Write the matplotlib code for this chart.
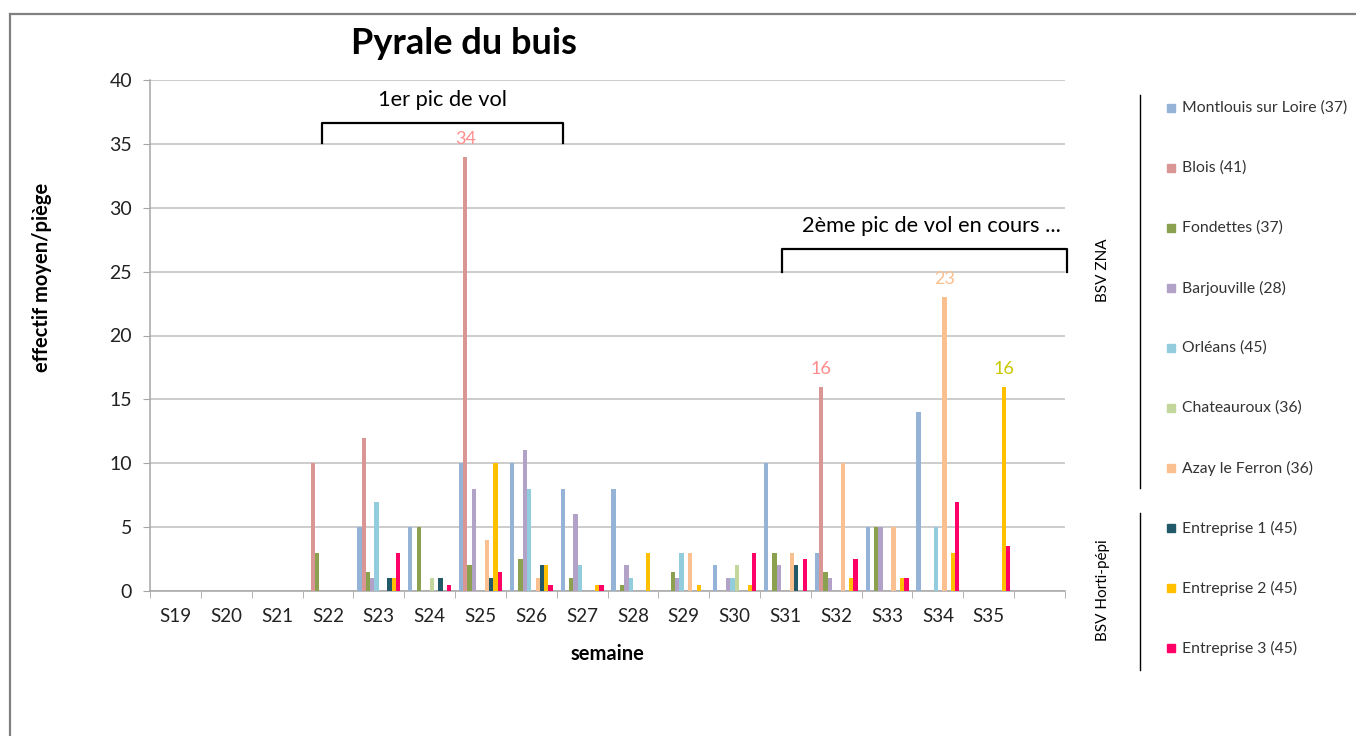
import matplotlib
matplotlib.use("Agg")
import matplotlib.pyplot as plt
from matplotlib.lines import Line2D
import numpy as np

plt.rcParams['font.family'] = ['Lato', 'DejaVu Sans']

weeks = ["S19", "S20", "S21", "S22", "S23", "S24", "S25", "S26", "S27",
         "S28", "S29", "S30", "S31", "S32", "S33", "S34", "S35", ""]

series_names = ["Montlouis sur Loire (37)", "Blois (41)", "Fondettes (37)",
                "Barjouville (28)", "Orléans (45)", "Chateauroux (36)",
                "Azay le Ferron (36)", "Entreprise 1 (45)", "Entreprise 2 (45)",
                "Entreprise 3 (45)"]
colors = ["#95B3D7", "#D99694", "#8BA150", "#B3A2C7", "#93CDDD",
          "#C3D69B", "#FAC090", "#215968", "#FFC000", "#FF0066"]

#                S19 S20 S21 S22 S23 S24 S25 S26 S27 S28 S29 S30 S31 S32 S33 S34 S35  -
montlouis     = [0, 0, 0, 0, 5, 5, 10, 10, 8, 8, 0, 2, 10, 3, 5, 14, 0, 0]
blois         = [0, 0, 0, 10, 12, 0, 34, 0, 0, 0, 0, 0, 0, 16, 0, 0, 0, 0]
fondettes     = [0, 0, 0, 3, 1.5, 5, 2, 2.5, 1, 0.5, 1.5, 0, 3, 1.5, 5, 0, 0, 0]
barjouville   = [0, 0, 0, 0, 1, 0, 8, 11, 6, 2, 1, 1, 2, 1, 5, 0, 0, 0]
orleans       = [0, 0, 0, 0, 7, 0, 0, 8, 2, 1, 3, 1, 0, 0, 0, 5, 0, 0]
chateauroux   = [0, 0, 0, 0, 0, 1, 0, 0, 0, 0, 0, 2, 0, 0, 0, 0, 0, 0]
azay          = [0, 0, 0, 0, 0, 0, 4, 1, 0, 0, 3, 0, 3, 10, 5, 23, 0, 0]
entreprise1   = [0, 0, 0, 0, 1, 1, 1, 2, 0, 0, 0, 0, 2, 0, 0, 0, 0, 0]
entreprise2   = [0, 0, 0, 0, 1, 0, 10, 2, 0.5, 3, 0.5, 0.5, 0, 1, 1, 3, 16, 0]
entreprise3   = [0, 0, 0, 0, 3, 0.5, 1.5, 0.5, 0.5, 0, 0, 3, 2.5, 2.5, 1, 7, 3.5, 0]

series = [montlouis, blois, fondettes, barjouville, orleans, chateauroux,
          azay, entreprise1, entreprise2, entreprise3]

# labelled points: (series index, week label, label colour)
labelled = [(1, "S25", "#FF8C8C"), (1, "S32", "#FF8C8C"),
            (6, "S34", "#FAC090"), (8, "S35", "#C8C800")]

W, H = 1356, 736
fig = plt.figure(figsize=(W / 100, H / 100), dpi=100)
ax = fig.add_axes([150 / W, 1 - 591 / H, (1065 - 150) / W, (591 - 80) / H])

x = np.arange(len(weeks))
bw = 0.0847
for j, (vals, c) in enumerate(zip(series, colors)):
    ax.bar(x + (j - 4.5) * bw, vals, width=bw, color=c, linewidth=0,
           label=series_names[j], zorder=3)

for si, wk, col in labelled:
    i = weeks.index(wk)
    v = series[si][i]
    ax.annotate(f"{v:g}", (i + (si - 4.5) * bw, v), xytext=(0, 13),
                textcoords="offset points", ha="center", va="center",
                fontsize=13, color=col)

ax.set_xlim(-0.5, len(weeks) - 0.5)
ax.set_ylim(0, 40)
ax.set_yticks(np.arange(0, 41, 5))
ax.yaxis.grid(True, color="#BEBEBE", linewidth=1.1, zorder=0)
ax.set_axisbelow(True)
for s in ["top", "right"]:
    ax.spines[s].set_visible(False)
for s in ["left", "bottom"]:
    ax.spines[s].set_color("#A6A6A6")
    ax.spines[s].set_linewidth(1.1)
ax.tick_params(axis="y", length=5, color="#A6A6A6", pad=8, labelsize=14,
               labelcolor="#222222")
ax.set_xticks(x)
ax.set_xticklabels(weeks)
ax.set_xticks(np.arange(len(weeks) + 1) - 0.5, minor=True)
ax.tick_params(axis="x", which="major", length=0, pad=12, labelsize=13.5,
               labelcolor="#222222")
ax.tick_params(axis="x", which="minor", length=5, color="#A6A6A6")

ax.set_ylabel("effectif moyen/piège", fontsize=14.5, fontweight="bold")
ax.yaxis.set_label_coords((52 - 150) / (1065 - 150), (591 - 277) / (591 - 80))
ax.set_xlabel("semaine", fontsize=14.5, fontweight="bold", labelpad=14)

# brackets
def bracket(x0, x1, ytop, ybot):
    ax.plot([x0, x0, x1, x1], [ybot, ytop, ytop, ybot], color="black",
            linewidth=1.6, clip_on=False, zorder=5, solid_joinstyle="round")

bracket(2.89, 7.62, 36.6, 35.05)
bracket(11.93, 17.53, 26.77, 24.95)
ax.text(5.25, 38.4, "1er pic de vol", ha="center", va="center", fontsize=15.7)
ax.text(14.87, 28.6, "2ème pic de vol en cours ...", ha="center", va="center",
        fontsize=15.7)

fig.text(464 / W, 1 - 44 / H, "Pyrale du buis", ha="center", va="center",
         fontsize=26, fontweight="bold")

# outer frame (left & top)
fig.add_artist(Line2D([10 / W, 10 / W], [0, 1 - 14 / H], transform=fig.transFigure,
                      color="#808080", linewidth=1.6))
fig.add_artist(Line2D([10 / W, 1], [1 - 14 / H, 1 - 14 / H], transform=fig.transFigure,
                      color="#808080", linewidth=1.6))

# legend (manual)
for k, (name, c) in enumerate(zip(series_names, colors)):
    yy = 1 - (108 + k * 60) / H
    fig.patches.append(plt.Rectangle((1167 / W, yy - 4 / H), 8 / W, 8 / H,
                                     transform=fig.transFigure, color=c))
    fig.text(1182 / W, yy, name, ha="left", va="center", fontsize=11.3,
             color="#333333")

fig.add_artist(Line2D([1140 / W, 1140 / W], [1 - 95 / H, 1 - 488 / H],
                      transform=fig.transFigure, color="black", linewidth=1))
fig.add_artist(Line2D([1140 / W, 1140 / W], [1 - 513 / H, 1 - 670 / H],
                      transform=fig.transFigure, color="black", linewidth=1))
fig.text(1103 / W, 1 - 270 / H, "BSV ZNA", rotation=90, ha="center",
         va="center", fontsize=11)
fig.text(1103 / W, 1 - 590 / H, "BSV Horti-pépi", rotation=90, ha="center",
         va="center", fontsize=11)

fig.savefig("out.png", dpi=100)
